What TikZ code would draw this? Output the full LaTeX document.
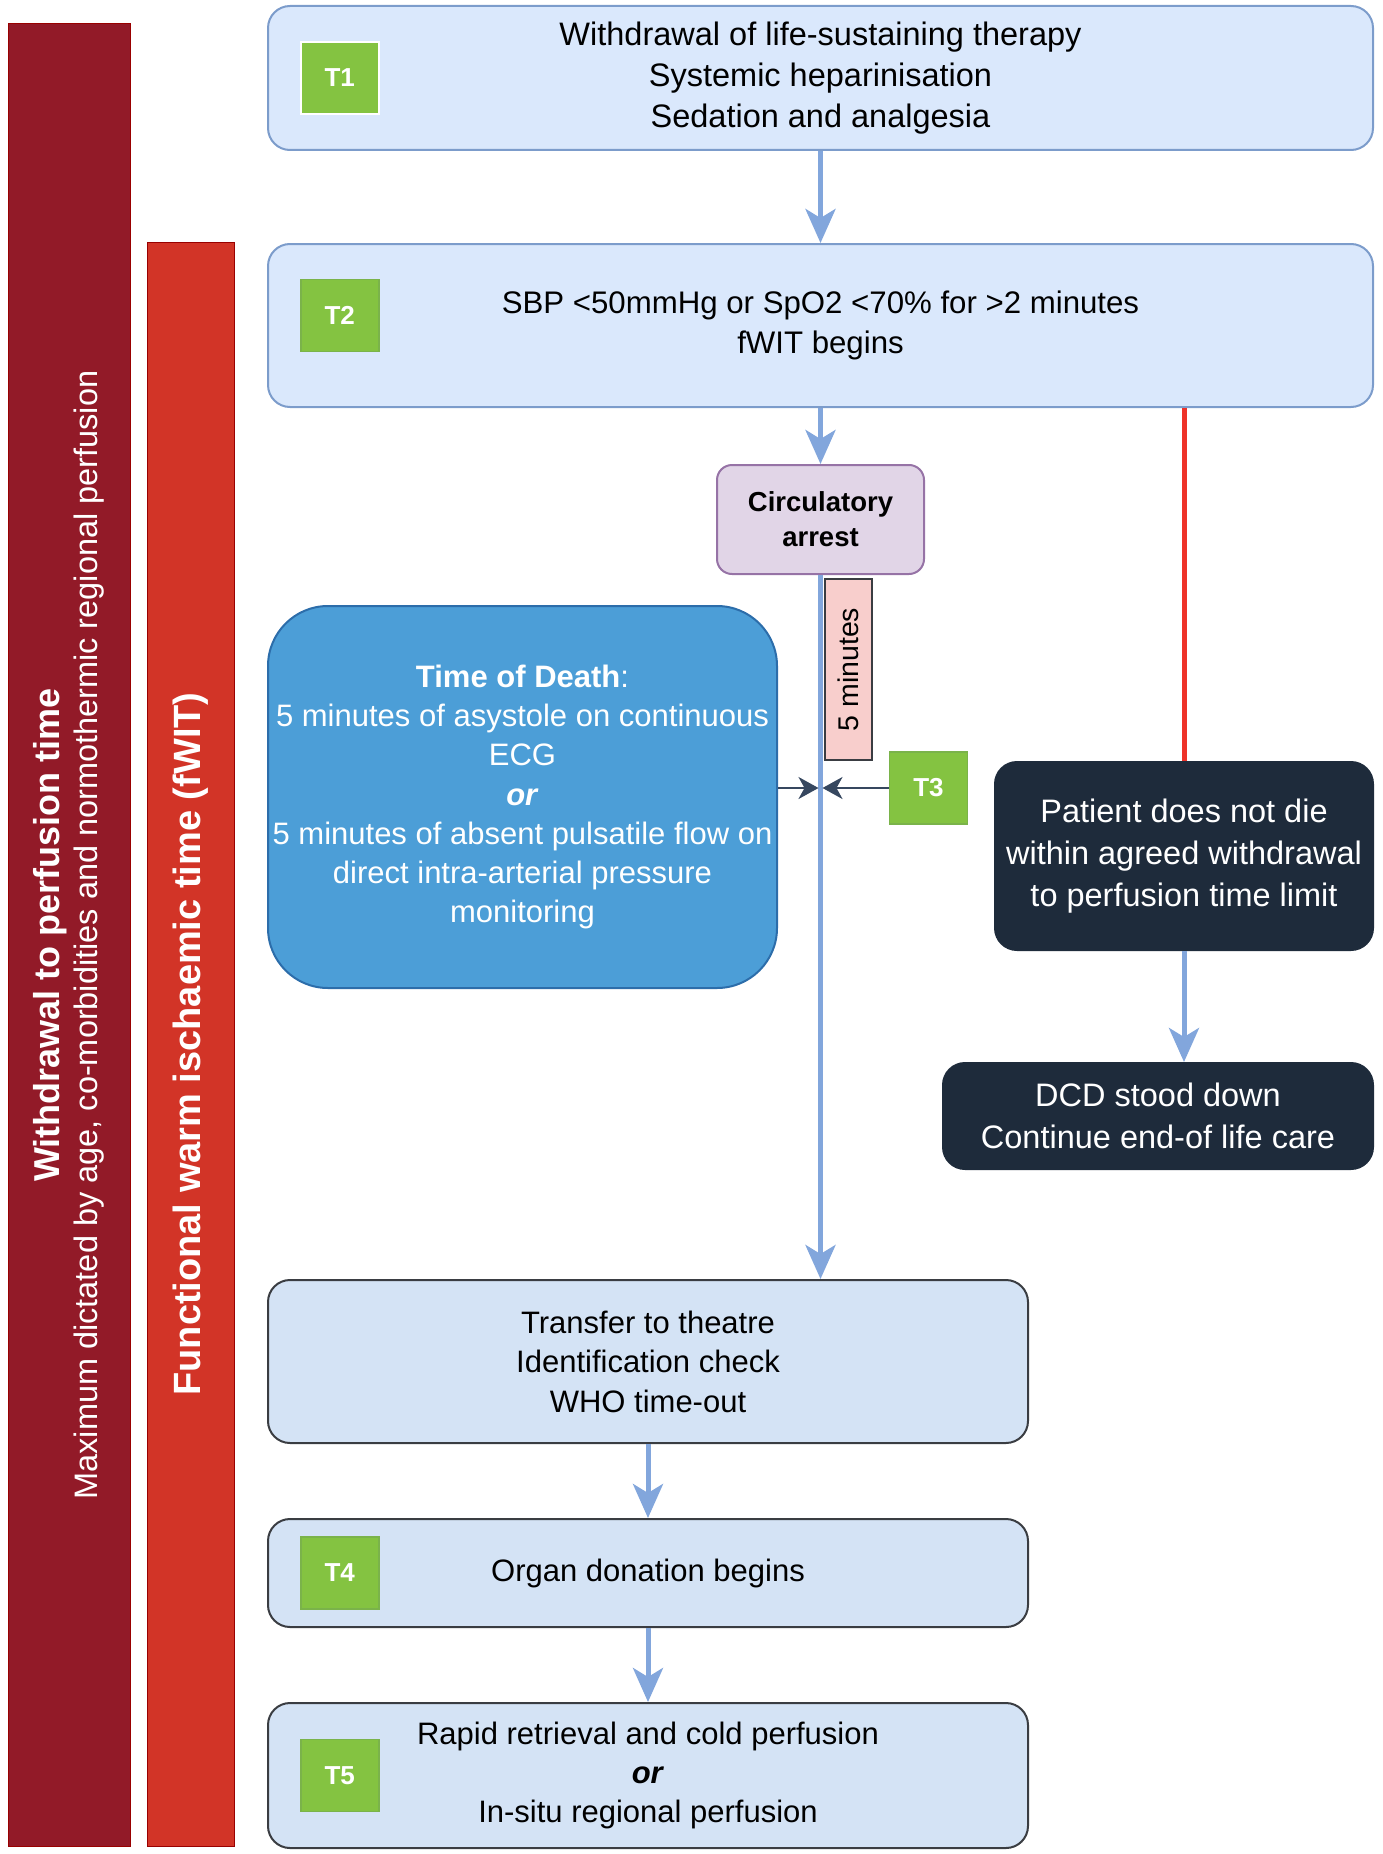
\documentclass[tikz,border=0pt]{standalone}
\usepackage{fontspec}
\setmainfont{Liberation Sans}
\usetikzlibrary{positioning}
\usetikzlibrary{arrows.meta}
\usetikzlibrary{calc}

\definecolor{boxBlue}{HTML}{DAE8FC}
\definecolor{boxBlueLine}{HTML}{7C9CCB}
\definecolor{lowBlue}{HTML}{D4E3F5}
\definecolor{lowLine}{HTML}{3A3D42}
\definecolor{tagGreen}{HTML}{84C341}
\definecolor{tagLine}{HTML}{7AB34A}
\definecolor{arrestFill}{HTML}{E1D5E7}
\definecolor{arrestLine}{HTML}{9673A6}
\definecolor{pinkFill}{HTML}{F8CECC}
\definecolor{deathBlue}{HTML}{4C9ED7}
\definecolor{deathLine}{HTML}{2C6DAA}
\definecolor{navy}{HTML}{1E2B3B}
\definecolor{flowBlue}{HTML}{82A6DC}
\definecolor{slate}{HTML}{36475F}
\definecolor{redLine}{HTML}{EE3229}
\definecolor{darkRed}{HTML}{921A28}
\definecolor{brightRed}{HTML}{D23427}

\tikzset{%
	% Specifications for style of nodes:
	base/.style = {rectangle, rounded corners=22pt, draw=black, line width=2pt,
		inner sep=0pt, text centered, align=center,
		font=\fontsize{31}{39.5}\selectfont},
	topStep/.style = {base, fill=boxBlue, draw=boxBlueLine, minimum width=1105pt,
		font=\fontsize{32.5}{41}\selectfont},
	lowStep/.style = {base, fill=lowBlue, draw=lowLine, minimum width=760pt},
	darkStep/.style = {base, fill=navy, draw=navy, text=white,
		font=\fontsize{32.5}{42}\selectfont},
	tag/.style = {rectangle, fill=tagGreen, draw=tagLine, line width=1.5pt,
		minimum width=78pt, minimum height=72pt, text=white,
		font=\fontsize{26}{30}\selectfont\bfseries},
	bar/.style = {rectangle, draw=black!40!red, line width=1pt, rotate=90,
		text=white, align=center, inner sep=0pt},
	% Specifications for style of connectors:
	flow/.style = {draw=flowBlue, line width=5pt,
		-{Stealth[length=34pt, width=30pt, inset=9pt]}},
	pointer/.style = {draw=slate, line width=2pt, shorten >=2pt,
		-{Stealth[length=20pt, width=22pt, inset=6pt]}},
	stopLine/.style = {draw=redLine, line width=5pt}
}

\begin{document}
\begin{tikzpicture}[x=1pt, y=-1pt]
		\useasboundingbox (0,0) rectangle (1383,1854);
		\node (withdrawalBar) [bar, fill=darkRed, minimum width=1822pt, minimum height=122pt, font=\fontsize{32.5}{38}\selectfont] at (69,935) {{\fontsize{36}{38}\selectfont\bfseries Withdrawal to perfusion time}\\Maximum dictated by age, co-morbidities and normothermic regional perfusion};
		\node (fwitBar) [bar, fill=brightRed, minimum width=1604pt, minimum height=87pt, font=\fontsize{38}{44}\selectfont\bfseries] at (190.5,1044) {Functional warm ischaemic time (fWIT)};
		\node (t1box) [topStep, minimum height=144pt] at (820.5,78) {Withdrawal of life-sustaining therapy\\Systemic heparinisation\\Sedation and analgesia};
		\node (t1Tag) [tag, draw=white, right=33pt of t1box.west] {T1};
		\node (t2box) [topStep, minimum height=163pt, below=92pt of t1box, font=\fontsize{31.2}{40}\selectfont] {SBP <50mmHg or SpO2 <70\% for >2 minutes\\fWIT begins};
		\node (t2Tag) [tag, right=33pt of t2box.west, yshift=10pt] {T2};
		\node (circArrest) [base, fill=arrestFill, draw=arrestLine, rounded corners=15pt, minimum width=207pt, minimum height=109pt, below=56pt of t2box, font=\fontsize{27.5}{35}\selectfont\bfseries] {Circulatory\\arrest};
		\node (fiveMin) [draw=lowLine, fill=pinkFill, line width=1.5pt, minimum width=181pt, minimum height=47pt, rotate=90, inner sep=0pt, font=\fontsize{28.5}{32}\selectfont] at (848.5,669.5) {5 minutes};
		\node (timeDeath) [base, fill=deathBlue, draw=deathLine, rounded corners=60pt, minimum width=509pt, minimum height=382pt, text=white, font=\fontsize{31}{39.2}\selectfont] at (522.5,797) {\textbf{Time of Death}:\\5 minutes of asystole on continuous\\ECG\\\textbf{\textit{or}}\\5 minutes of absent pulsatile flow on\\direct intra-arterial pressure\\monitoring};
		\node (t3Tag) [tag] at (928.5,788) {T3};
		\node (noDeath) [darkStep, minimum width=378pt, minimum height=188pt] at (1184,856) {Patient does not die\\within agreed withdrawal\\to perfusion time limit};
		\node (standDown) [darkStep, minimum width=430pt, minimum height=106pt] at (1158,1116) {DCD stood down\\Continue end-of life care};
		\node (transfer) [lowStep, minimum height=163pt] at (648,1361.5) {Transfer to theatre\\Identification check\\WHO time-out};
		\node (t4box) [lowStep, minimum height=108pt, below=74pt of transfer] {Organ donation begins};
		\node (t4Tag) [tag, right=33pt of t4box.west] {T4};
		\node (t5box) [lowStep, minimum height=145pt, below=74pt of t4box, font=\fontsize{31}{39}\selectfont] {Rapid retrieval and cold perfusion\\\textbf{\textit{or}}\\In-situ regional perfusion};
		\node (t5Tag) [tag, right=33pt of t5box.west] {T5};
		% connectors
		\draw[flow] (t1box) -- (t2box);
		\draw[flow] (t2box) -- (circArrest);
		\draw[flow] (circArrest) -- (circArrest.south |- transfer.north);
		\draw[flow] (transfer) -- (t4box);
		\draw[flow] (t4box) -- (t5box);
		\draw[stopLine] (noDeath.north |- t2box.south) -- (noDeath.north);
		\draw[flow] (noDeath) -- (noDeath.south |- standDown.north);
		\draw[pointer] (t3Tag) -- (t3Tag.west -| circArrest.south);
		\draw[pointer] (timeDeath.east |- t3Tag.west) -- (t3Tag.west -| circArrest.south);
	\end{tikzpicture}
\end{document}
